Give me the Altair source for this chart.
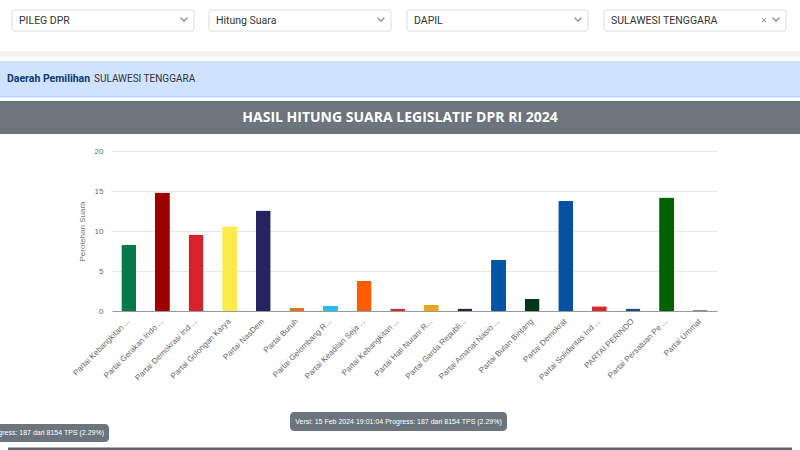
import json
import altair as alt
import pandas as pd

# ---------------- data ----------------
labels = [
    "Partai Kebangkitan ...",
    "Partai Gerakan Indo ...",
    "Partai Demokrasi Ind ...",
    "Partai Golongan Karya",
    "Partai NasDem",
    "Partai Buruh",
    "Partai Gelombang R...",
    "Partai Keadilan Seja ...",
    "Partai Kebangkitan ...",
    "Partai Hati Nurani R...",
    "Partai Garda Republi...",
    "Partai Amanat Nasio ...",
    "Partai Bulan Bintang",
    "Partai Demokrat",
    "Partai Solidaritas Ind ...",
    "PARTAI PERINDO",
    "Partai Persatuan Pe ...",
    "Partai Ummat",
]
values = [8.25, 14.8, 9.55, 10.6, 12.55, 0.4, 0.65, 3.75, 0.3, 0.75,
          0.3, 6.4, 1.5, 13.75, 0.6, 0.3, 14.2, 0.15]
colors = ["#047a4b", "#9e0000", "#d7212b", "#fdeb4c", "#24225f", "#e8731e",
          "#27bdea", "#ff5b00", "#d52a2a", "#f3a51d", "#172a47", "#0356a5",
          "#00361c", "#0450a1", "#e0242c", "#254a7f", "#006400", "#8a8a8a"]
y_ticks = [0, 5, 10, 15, 20]

dropdowns = ["PILEG DPR", "Hitung Suara", "DAPIL", "SULAWESI TENGGARA"]
title_text = "HASIL HITUNG SUARA LEGISLATIF DPR RI 2024"
dapil_key = "Daerah Pemilihan"
dapil_val = "SULAWESI TENGGARA"
badge_text = "Versi: 15 Feb 2024 19:01:04 Progress: 187 dari 8154 TPS (2.29%)"

# ---------------- layout ----------------
W, H = 800, 450
X0, Y0 = 112, 151          # plot origin on the page
PW, PH = 605, 160          # plot size

df = pd.DataFrame({"idx": list(range(len(labels))), "label": labels, "votes": values})
one = alt.Data(values=[{}])


def rect(x1, y1, x2, y2, fill, stroke=None, sw=1, r=0):
    kw = dict(fill=fill, cornerRadius=r)
    if stroke:
        kw.update(stroke=stroke, strokeWidth=sw)
    else:
        kw.update(strokeWidth=0)
    return alt.Chart(one).mark_rect(**kw).encode(
        x=alt.value(x1 - X0), x2=alt.value(x2 - X0),
        y=alt.value(y1 - Y0), y2=alt.value(y2 - Y0))


def text(x, y, s, size=11, color="#333", weight="normal", align="left",
         font="Open Sans"):
    return alt.Chart(one).mark_text(
        text=s, align=align, baseline="middle", fontSize=size, color=color,
        fontWeight=weight, font=font).encode(
        x=alt.value(x - X0), y=alt.value(y - Y0))


def chevron(x, y):
    return alt.Chart(one).mark_point(
        shape="M-1,-0.5L0,0.5L1,-0.5", filled=False, stroke="#8a8a8a",
        strokeWidth=1.3, size=45, opacity=1).encode(
        x=alt.value(x - X0), y=alt.value(y - Y0))


deco = []
# dropdowns
boxes = [(12, 194), (209, 391), (407, 588), (604, 786)]
for (a, b), s in zip(boxes, dropdowns):
    deco.append(rect(a, 10, b, 31, "white", stroke="#dcdcdc", r=2))
    deco.append(text(a + 7, 20.5, s, size=10.5, color="#333", font="Roboto"))
    deco.append(chevron(b - 10, 19.5))
deco.append(text(764, 21, "×", size=11, color="#8a8a8a", align="center"))
# separator shadow
deco.append(rect(0, 51, 800, 57, "#f4f4f4"))
# info band
deco.append(rect(0, 61, 800, 97, "#cfe2ff"))
deco.append(rect(0, 96, 800, 97.5, "#b6d4fe"))
deco.append(text(7, 79, dapil_key, size=10.5, color="#0a3a6e", weight="bold",
                 font="Roboto"))
deco.append(text(94, 79, dapil_val, size=10, color="#333", font="Roboto"))
# header
deco.append(rect(0, 101, 800, 134, "#6c757d"))
deco.append(text(400, 117.5, title_text, size=14, color="white", weight="bold",
                 align="center"))
# badges
deco.append(rect(290, 412, 507, 431, "#6c757d", r=4))
deco.append(text(398.5, 421.5, badge_text, size=7, color="white", align="center",
                 font="Liberation Sans"))
deco.append(rect(-10, 424, 109, 442, "#6c757d", r=4))
deco.append(text(104, 433, badge_text, size=7, color="white", align="right",
                 font="Liberation Sans"))
# bottom rule
deco.append(rect(8, 447.5, 792, 450, "#5f6368"))

label_expr = json.dumps(labels) + "[datum.value]"

bars = alt.Chart(df).mark_bar(size=15, cornerRadius=1).encode(
    x=alt.X("idx:O", title=None,
            axis=alt.Axis(labelExpr=label_expr, labelAngle=-45, labelAlign="right",
                          labelBaseline="middle", labelFontSize=8,
                          labelColor="#666", labelFont="Liberation Sans",
                          labelPadding=9, ticks=False, domainColor="#999",
                          domainWidth=1, grid=False, labelLimit=200)),
    y=alt.Y("votes:Q", scale=alt.Scale(domain=[0, 20]),
            axis=alt.Axis(values=y_ticks, title="Perolehan Suara", titleFontSize=8,
                          titleFontWeight="normal", titleColor="#777",
                          titleFont="Liberation Sans", titlePadding=8,
                          labelFontSize=8, labelColor="#666",
                          labelFont="Liberation Sans", labelPadding=9,
                          ticks=False, domain=False, gridColor="#e8e8e8")),
    color=alt.Color("idx:O", scale=alt.Scale(domain=list(range(len(labels))),
                                             range=colors), legend=None),
    tooltip=["label", "votes"],
)

chart = alt.layer(*deco, bars).properties(
    width=PW, height=PH,
    autosize=alt.AutoSizeParams(type="none"),
    padding={"left": X0, "top": Y0, "right": W - X0 - PW, "bottom": H - Y0 - PH},
    background="white",
).configure_view(stroke=None)

chart.save("out.html", embed_options={"renderer": "svg", "actions": False})
